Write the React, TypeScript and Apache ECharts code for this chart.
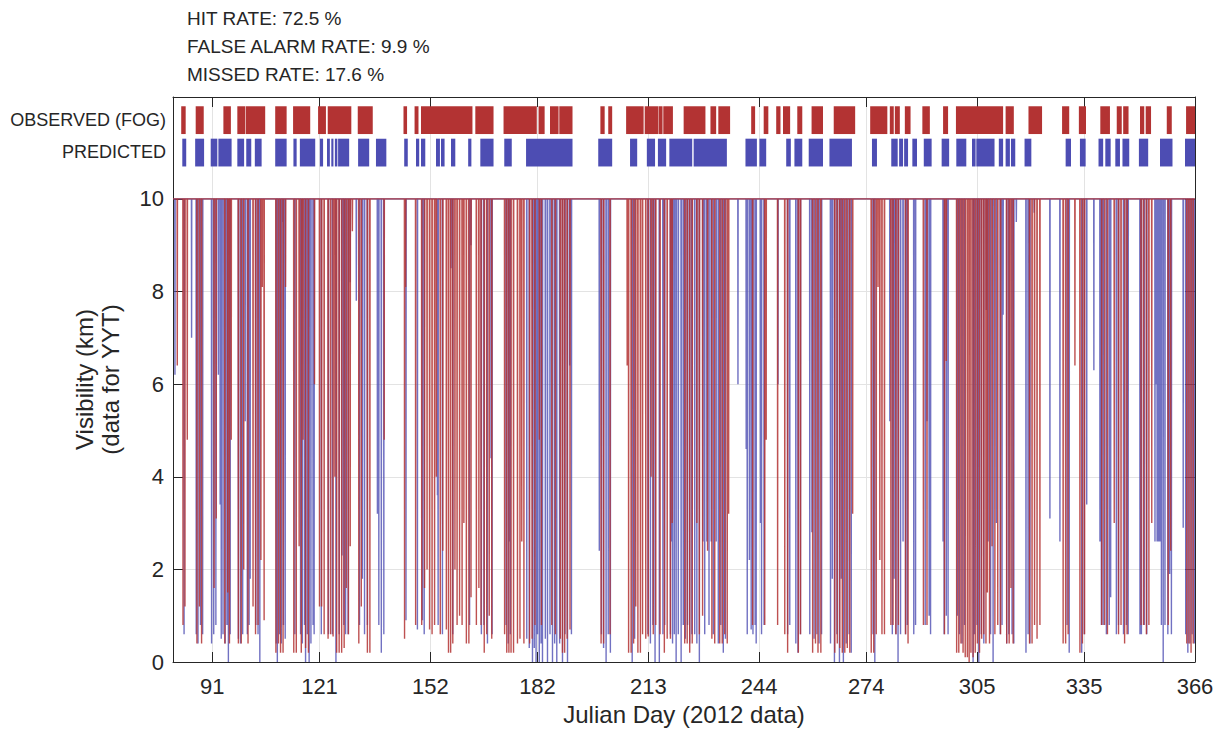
import React, { useEffect, useRef } from 'react';
import * as echarts from 'echarts';

// ---------- data ----------
const X_TICKS = [91, 121, 152, 182, 213, 244, 274, 305, 335, 366];
const Y_TICKS = [0, 2, 4, 6, 8, 10];
const STATS = ['HIT RATE: 72.5 %', 'FALSE ALARM RATE: 9.9 %', 'MISSED RATE: 17.6 %'];
const ROW_LABELS = ['OBSERVED (FOG)', 'PREDICTED'];

// fog periods [startDay, endDay]
const OBS_FOG: number[][] = [
  [82.3, 83.55], [86.35, 88.6], [94.1, 96.2], [98.0, 100.2], [100.35, 105.8], [108.6, 111.8],
  [113.6, 118.4], [120.6, 122.8], [123.3, 129.9], [131.7, 135.9], [144.5, 145.5], [147.6, 148.7],
  [149.4, 163.8], [164.6, 169.7], [172.5, 181.8], [182.3, 184.0], [185.5, 187.9], [188.1, 191.8],
  [199.6, 200.8], [201.8, 202.9], [206.8, 211.7], [212.0, 215.8], [215.9, 217.0], [217.2, 219.9],
  [222.9, 229.0], [230.4, 232.0], [232.6, 235.9], [241.8, 242.9], [245.3, 246.6], [248.8, 250.0],
  [250.7, 252.7], [254.7, 256.1], [258.7, 261.9], [264.9, 270.9], [275.1, 279.9], [280.6, 281.7],
  [282.0, 283.4], [284.8, 286.4], [289.7, 291.8], [295.5, 296.9], [299.1, 312.3], [313.0, 315.3],
  [319.4, 323.2], [328.8, 330.8], [333.5, 335.5], [339.5, 342.2], [344.1, 345.5], [345.9, 347.4],
  [350.6, 351.8], [352.2, 353.7], [358.1, 359.5], [363.5, 366.0],
];
const PRED_FOG: number[][] = [
  [82.6, 83.7], [86.2, 88.7], [90.55, 92.4], [92.7, 96.4], [98.0, 99.9], [100.5, 101.9],
  [102.9, 104.8], [108.6, 111.8], [113.7, 114.6], [115.5, 119.8], [121.1, 122.0], [123.1, 123.9],
  [124.3, 124.9], [125.3, 126.0], [126.2, 129.3], [131.8, 134.9], [136.8, 139.7], [144.7, 145.7],
  [148.0, 148.9], [149.4, 150.6], [153.6, 154.7], [155.0, 156.0], [157.8, 159.0], [162.6, 163.5],
  [166.0, 169.7], [172.7, 174.8], [178.8, 191.8], [199.0, 202.9], [207.9, 209.9], [212.6, 214.9],
  [215.7, 218.0], [218.9, 225.3], [225.7, 235.0], [240.2, 243.4], [244.1, 246.0], [251.6, 252.9],
  [253.9, 256.1], [257.9, 261.9], [263.7, 270.0], [275.6, 277.0], [281.0, 282.8], [283.2, 284.3],
  [284.6, 285.7], [286.9, 288.2], [290.1, 292.3], [295.1, 297.2], [299.2, 302.0], [303.6, 304.6],
  [304.8, 309.9], [311.1, 312.3], [313.0, 314.2], [314.5, 315.7], [318.3, 320.2], [329.8, 331.3],
  [333.8, 335.4], [339.0, 340.3], [340.9, 342.4], [343.7, 345.0], [345.7, 347.6], [350.3, 352.9],
  [356.2, 359.7], [363.2, 366.0],
];

// visibility dips below the 10 km cap: [day, lowest visibility km]
const OBS_DIPS: number[][] = [
  [81.2, 6.4], [82.8, 0.8], [83.35, 1.2], [84.0, 4.8],
  [86.7, 0.4], [87.4, 1.2], [88.0, 0.4],
  [91.5, 1.6], [92.1, 3.1],
  [94.5, 0.4], [95.3, 1.5], [95.8, 0.4], [96.3, 4.8],
  [98.3, 0.4], [99.1, 0.4], [99.8, 2.0],
  [101.0, 0.4], [102.4, 1.2], [103.1, 0.6], [103.8, 0.8], [104.6, 2.2], [105.0, 8.1], [105.5, 0.9],
  [108.8, 0.2], [109.5, 0.4], [110.1, 0.2], [110.8, 0.2], [111.5, 8.1],
  [113.8, 0.2], [114.5, 0.2], [115.3, 2.5], [115.9, 0.2], [116.4, 4.8], [117.1, 0.3], [117.9, 0.2],
  [119.6, 6.0],
  [121.0, 1.2], [121.6, 1.2], [122.3, 0.6],
  [123.4, 0.5], [124.1, 0.6], [124.8, 0.55], [125.3, 4.0],
  [125.8, 0.2], [126.5, 0.2], [127.2, 0.2], [127.9, 0.3], [128.5, 1.6], [129.1, 0.6], [129.6, 2.5],
  [130.2, 9.3],
  [132.0, 0.4], [132.7, 1.2], [134.4, 0.2], [135.1, 0.2],
  [139.1, 4.8],
  [144.8, 0.5], [145.1, 8.1],
  [147.9, 0.8],
  [149.6, 0.8], [150.4, 1.6], [151.1, 2.0], [151.8, 0.7], [152.5, 0.6],
  [153.2, 0.8], [153.7, 4.0], [154.8, 0.6], [155.5, 2.4],
  [156.5, 0.7], [157.1, 0.2], [157.7, 0.2], [158.3, 0.4], [158.9, 2.0],
  [159.5, 0.8], [160.2, 1.0], [160.9, 0.8], [161.4, 3.0],
  [162.1, 0.4], [162.8, 0.4], [163.4, 1.4],
  [164.9, 0.8], [165.6, 1.6], [166.2, 0.8],
  [167.1, 0.2], [167.8, 0.6], [168.5, 1.0], [169.2, 0.5],
  [172.8, 0.6], [173.4, 0.2], [174.0, 0.2], [174.6, 0.2], [175.3, 0.2],
  [176.4, 0.4], [177.1, 0.5], [177.6, 2.6], [178.2, 0.4],
  [179.8, 0.4], [180.5, 0.5], [181.3, 0.8],
  [182.5, 4.8], [183.1, 0.8],
  [186.0, 0.8], [187.0, 0.6],
  [188.4, 0.5], [189.0, 0.2], [189.6, 0.2], [190.3, 0.5], [191.1, 0.7],
  [199.8, 0.4], [200.5, 0.4], [202.3, 0.6],
  [207.1, 6.4], [207.5, 0.2], [208.2, 0.2], [208.9, 0.4], [209.5, 1.2], [210.1, 0.2], [210.8, 0.2], [211.4, 0.6],
  [212.3, 0.5], [213.0, 0.55], [213.8, 4.0], [214.4, 0.6], [215.1, 0.8],
  [216.3, 0.6],
  [217.5, 0.2], [218.3, 0.5], [219.2, 0.5], [219.7, 3.0],
  [223.2, 0.4], [223.9, 0.4], [224.6, 0.2], [225.3, 0.4], [226.6, 3.0], [227.3, 0.6], [228.2, 1.0],
  [229.6, 2.4],
  [230.8, 0.5], [231.6, 0.4],
  [233.0, 0.4], [233.7, 0.4], [234.4, 0.6], [235.1, 0.4], [235.5, 3.2],
  [242.2, 0.8], [245.6, 0.8], [246.0, 4.8], [249.2, 0.8],
  [251.2, 0.6], [252.0, 0.2],
  [255.0, 0.2], [255.6, 0.6],
  [259.0, 0.2], [259.8, 0.4], [260.5, 0.2], [261.3, 0.2],
  [265.2, 0.2], [265.9, 0.4], [266.6, 0.3], [267.3, 0.2], [268.0, 0.2], [268.7, 0.3], [269.4, 0.2], [270.2, 3.2],
  [275.4, 0.2], [276.1, 0.2], [276.8, 0.6], [277.3, 8.1], [277.8, 2.2], [278.4, 0.6], [279.1, 0.6],
  [280.9, 0.8], [281.5, 0.8], [282.3, 0.6], [283.0, 0.8],
  [285.0, 0.6], [285.7, 0.4],
  [290.0, 0.8], [291.0, 0.8],
  [295.9, 0.6], [296.4, 6.5],
  [299.3, 0.2], [299.9, 0.2], [300.5, 0.4], [301.1, 0.2], [301.7, 0.1], [302.3, 0.1], [302.8, 0.0], [303.3, 0.2],
  [303.9, 0.1], [304.5, 0.2], [305.1, 0.4], [305.7, 0.2], [306.3, 0.5], [306.9, 0.6], [307.5, 0.4], [307.9, 1.5],
  [308.5, 0.4], [309.2, 2.5], [310.0, 0.6], [310.8, 0.8], [311.6, 0.6],
  [313.3, 0.4], [314.0, 0.4], [314.5, 1.6], [315.1, 0.4],
  [319.7, 0.4], [320.4, 0.4], [321.1, 0.8], [321.8, 0.5], [322.6, 0.8],
  [329.1, 0.4], [329.8, 0.4], [330.5, 0.6],
  [332.4, 6.4],
  [333.8, 0.2], [334.5, 0.4], [335.1, 0.6],
  [339.9, 0.8], [340.7, 0.8], [341.5, 0.6],
  [343.4, 3.0],
  [344.6, 0.6], [345.3, 0.8], [346.3, 0.4], [347.0, 0.6],
  [350.9, 0.8], [351.6, 0.8], [352.4, 0.6], [353.1, 0.8], [353.9, 3.0],
  [358.5, 0.8], [359.2, 2.4],
  [363.7, 0.4], [364.3, 0.4], [364.9, 0.2], [365.5, 0.4],
];

const PRED_DIPS: number[][] = [
  [80.55, 6.2], [83.1, 0.6], [85.2, 7.0],
  [86.5, 0.6], [87.0, 0.4], [87.7, 0.8], [88.3, 0.6],
  [90.8, 0.4], [91.4, 0.6], [92.0, 0.8], [92.7, 6.2], [93.2, 3.4], [93.5, 0.5], [94.0, 0.6], [94.6, 0.4], [95.1, 0.8], [95.5, 0.0], [96.0, 0.6],
  [98.3, 0.5], [98.9, 0.4], [99.5, 0.6],
  [100.2, 5.2], [100.8, 0.6], [101.3, 0.8], [101.6, 1.8],
  [103.2, 0.8], [103.8, 0.6], [104.3, 0.0],
  [108.9, 0.4], [109.2, 0.0], [109.8, 0.6], [110.3, 0.4], [110.6, 9.5], [110.9, 0.8], [111.4, 0.5],
  [114.1, 0.6],
  [115.7, 0.6], [116.2, 0.4], [116.8, 0.8], [117.1, 0.0], [117.6, 0.6], [118.1, 0.0], [118.6, 0.4], [119.2, 0.8], [119.5, 0.6],
  [121.5, 0.6], [123.5, 0.6], [124.6, 0.6], [125.6, 0.0],
  [126.5, 0.6], [127.3, 2.3], [127.8, 0.8], [128.3, 0.6], [129.0, 0.6], [129.6, 8.2],
  [131.3, 7.8], [132.2, 0.8], [133.0, 1.8], [133.6, 0.6], [134.4, 0.8],
  [137.2, 3.2], [137.6, 0.8], [138.3, 0.2], [139.0, 0.6],
  [145.2, 0.9], [148.4, 0.7], [149.8, 0.9], [150.3, 0.6],
  [154.0, 3.6], [154.2, 0.8], [155.4, 0.6], [157.8, 8.5], [158.3, 0.6],
  [163.0, 0.8], [163.4, 9.0],
  [166.3, 0.6], [167.0, 0.8], [168.0, 0.4], [169.0, 4.4], [169.3, 0.6],
  [173.2, 0.8], [173.8, 0.4], [174.1, 2.6], [174.4, 0.6],
  [179.0, 0.5], [179.7, 0.3], [180.6, 0.0], [181.1, 0.3], [181.6, 0.0], [182.0, 0.6], [182.5, 0.0], [183.0, 0.4], [183.4, 0.0],
  [184.2, 0.5], [184.8, 0.0], [185.5, 0.6], [186.2, 0.0], [186.8, 0.4], [187.4, 0.0], [188.2, 0.4], [189.0, 0.0], [189.7, 0.6],
  [190.4, 0.0], [191.0, 6.4], [191.5, 0.6],
  [199.3, 2.4], [199.9, 0.6], [200.5, 0.3], [201.2, 0.0], [201.8, 0.6], [202.4, 0.2],
  [208.5, 0.0], [209.2, 0.5],
  [212.9, 0.6], [213.6, 0.4], [214.3, 0.8], [214.9, 0.0],
  [216.1, 0.0], [217.1, 0.6], [217.6, 0.8],
  [219.2, 0.6], [219.5, 2.6], [219.8, 0.4], [220.3, 0.6], [220.8, 0.0], [221.4, 0.6], [222.2, 0.0], [222.8, 0.8], [223.4, 0.5], [224.0, 0.8], [224.6, 0.4], [225.2, 0.6],
  [226.0, 0.6], [226.6, 0.4], [227.3, 0.0], [228.3, 2.6], [228.8, 0.6], [229.4, 2.6], [230.0, 0.8], [230.6, 2.6], [231.2, 0.6], [232.0, 2.6], [232.6, 0.4], [233.3, 0.8], [234.0, 0.2], [234.6, 0.5],
  [238.1, 6.0],
  [240.4, 4.6], [240.7, 0.6], [241.3, 2.2], [241.8, 0.7], [242.3, 0.6], [242.9, 0.8], [243.2, 0.4],
  [244.4, 3.0], [244.7, 0.6], [245.4, 0.8],
  [249.3, 6.0],
  [252.0, 0.6], [252.6, 0.8],
  [254.3, 0.4], [254.9, 0.2], [255.6, 0.6],
  [258.2, 0.6], [258.8, 2.8], [259.4, 0.5], [260.2, 0.6], [260.8, 0.4], [261.5, 0.6],
  [264.0, 0.4], [264.5, 1.8], [265.1, 0.0], [265.8, 0.6], [266.5, 0.0], [267.0, 1.8], [267.6, 0.0], [268.4, 0.4], [269.2, 0.6], [269.8, 0.2],
  [275.9, 0.6], [276.4, 0.0],
  [280.6, 5.2], [281.3, 0.6], [281.8, 1.8], [282.3, 0.6], [282.9, 0.0], [283.6, 0.6], [284.3, 2.6], [285.0, 0.6], [285.5, 0.8],
  [287.3, 0.6], [287.8, 0.8],
  [290.5, 0.8], [291.0, 5.2], [291.6, 1.0], [292.0, 0.6],
  [295.5, 2.6], [295.8, 0.6], [296.4, 1.0], [296.9, 0.6],
  [299.5, 1.0], [300.1, 0.6], [300.8, 0.4], [301.5, 0.8],
  [303.9, 0.0], [304.3, 0.6],
  [305.0, 0.8], [305.5, 0.0], [306.2, 0.6], [306.9, 0.4], [307.6, 7.6], [308.1, 2.6], [308.8, 0.6], [309.5, 0.0],
  [310.4, 3.0], [311.5, 0.6], [312.0, 0.8], [312.3, 7.5],
  [313.3, 0.4], [313.9, 0.6], [314.8, 0.6], [315.3, 0.4], [316.0, 9.5],
  [318.7, 0.2], [319.3, 0.6], [319.8, 0.4], [321.0, 9.7],
  [325.4, 3.1],
  [328.2, 2.6], [330.2, 0.8], [330.8, 0.2],
  [334.3, 0.2], [335.0, 0.6], [335.7, 3.4],
  [337.7, 6.3], [339.4, 2.6], [339.8, 0.8], [340.3, 0.8], [341.2, 0.6], [342.0, 0.8], [342.4, 1.4],
  [344.0, 0.6], [344.6, 0.8], [346.0, 0.6], [346.8, 0.8], [347.3, 0.6],
  [350.6, 0.6], [351.0, 0.6], [351.8, 0.8], [352.5, 0.6],
  [354.8, 2.6], [355.1, 6.0], [355.4, 2.6], [355.8, 2.6], [356.2, 2.6], [356.6, 0.8], [357.1, 0.0], [357.6, 0.8], [358.4, 0.6], [358.9, 1.9], [359.4, 0.6],
  [362.7, 2.9],
  [363.4, 0.6], [364.0, 0.2], [364.6, 0.4], [365.2, 0.6], [365.8, 0.4],
];

const X_MIN = 80;
const X_MAX = 366;
const CAP = 10;

// ---------- styles ----------
const RED = '#B33333';
const BLUE = '#4D4DB3';
const TEXT = '#262626';
const GRID = '#e3e3e3';
const FONT = '"Liberation Sans", Arial, Helvetica, sans-serif';
const OBS_ROW = [11.4, 12.0];
const PRED_ROW = [10.7, 11.3];

function toLine(dips: number[][]): number[][] {
  const pts: number[][] = [[X_MIN, CAP]];
  const sorted = [...dips].sort((a, b) => a[0] - b[0]);
  for (const [d, v] of sorted) {
    pts.push([d - 0.05, CAP], [d, v], [d + 0.05, CAP]);
  }
  pts.push([X_MAX, CAP]);
  return pts;
}

function stripSeries(data: number[][], row: number[], color: string) {
  return {
    type: 'custom',
    silent: true,
    xAxisIndex: 0,
    yAxisIndex: 0,
    dimensions: ['start', 'end'],
    encode: { x: [0, 1] },
    data,
    renderItem: (_params: any, api: any) => {
      const p0 = api.coord([api.value(0), row[1]]);
      const p1 = api.coord([api.value(1), row[0]]);
      return {
        type: 'rect',
        shape: { x: p0[0], y: p0[1], width: Math.max(p1[0] - p0[0], 1), height: p1[1] - p0[1] },
        style: { fill: color },
      };
    },
    z: 3,
  };
}

export default function App() {
  const ref = useRef<HTMLDivElement>(null);

  useEffect(() => {
    if (!ref.current) return;
    const chart = echarts.init(ref.current, undefined, { renderer: 'svg' });
    const axisLine = { show: true, onZero: false, lineStyle: { color: TEXT, width: 1 } };
    const option: any = {
      animation: false,
      backgroundColor: '#ffffff',
      textStyle: { fontFamily: FONT },
      grid: { left: 173, right: 26, top: 97, bottom: 68, containLabel: false },
      xAxis: [
        {
          type: 'value', min: X_MIN, max: X_MAX, position: 'bottom',
          name: 'Julian Day (2012 data)', nameLocation: 'middle', nameGap: 40,
          nameTextStyle: { fontSize: 24, color: TEXT, fontFamily: FONT },
          axisLine,
          axisTick: { show: true, inside: true, length: 10, customValues: X_TICKS, lineStyle: { color: TEXT } },
          axisLabel: { customValues: X_TICKS, fontSize: 22, color: TEXT, margin: 13, fontFamily: FONT },
          splitLine: { show: true, lineStyle: { color: GRID, width: 1 } },
        },
        {
          type: 'value', min: X_MIN, max: X_MAX, position: 'top',
          axisLine,
          axisTick: { show: true, inside: true, length: 10, customValues: X_TICKS, lineStyle: { color: TEXT } },
          axisLabel: { show: false },
          splitLine: { show: false },
        },
      ],
      yAxis: [
        {
          type: 'value', min: 0, max: 12.2, position: 'left',
          name: 'Visibility (km)\n(data for YYT)', nameLocation: 'middle', nameGap: 50,
          nameTextStyle: { fontSize: 24, color: TEXT, fontFamily: FONT, lineHeight: 26 },
          axisLine,
          axisTick: { show: true, inside: true, length: 10, customValues: Y_TICKS, lineStyle: { color: TEXT } },
          axisLabel: { customValues: Y_TICKS, fontSize: 22, color: TEXT, margin: 9, fontFamily: FONT },
          splitLine: { show: true, lineStyle: { color: GRID, width: 1 } },
        },
        {
          type: 'value', min: 0, max: 12.2, position: 'right',
          axisLine,
          axisTick: { show: true, inside: true, length: 10, customValues: Y_TICKS, lineStyle: { color: TEXT } },
          axisLabel: { show: false },
          splitLine: { show: false },
        },
      ],
      graphic: [
        ...STATS.map((t, i) => ({
          type: 'text', x: 187, y: 18 + i * 28,
          style: { text: t, fontSize: 19, fill: TEXT, fontFamily: FONT, verticalAlign: 'middle', align: 'left' },
        })),
        ...ROW_LABELS.map((t, i) => ({
          type: 'text', x: 166, y: 120 + i * 32,
          style: { text: t, fontSize: 18, fill: TEXT, fontFamily: FONT, verticalAlign: 'middle', align: 'right' },
        })),
      ],
      series: [
        {
          type: 'line', name: 'Predicted visibility', data: toLine(PRED_DIPS),
          xAxisIndex: 0, yAxisIndex: 0, symbol: 'none', showSymbol: false, silent: true,
          lineStyle: { color: BLUE, width: 1.4, opacity: 0.8 }, z: 2,
        },
        {
          type: 'line', name: 'Observed visibility', data: toLine(OBS_DIPS),
          xAxisIndex: 0, yAxisIndex: 0, symbol: 'none', showSymbol: false, silent: true,
          lineStyle: { color: RED, width: 1.4, opacity: 0.85 }, z: 2,
        },
        stripSeries(OBS_FOG, OBS_ROW, RED),
        stripSeries(PRED_FOG, PRED_ROW, BLUE),
      ],
    };
    chart.setOption(option);
    return () => chart.dispose();
  }, []);

  return (
    <div
      ref={ref}
      style={{ position: 'fixed', left: 0, top: 0, width: 1221, height: 731, background: '#fff' }}
    />
  );
}
